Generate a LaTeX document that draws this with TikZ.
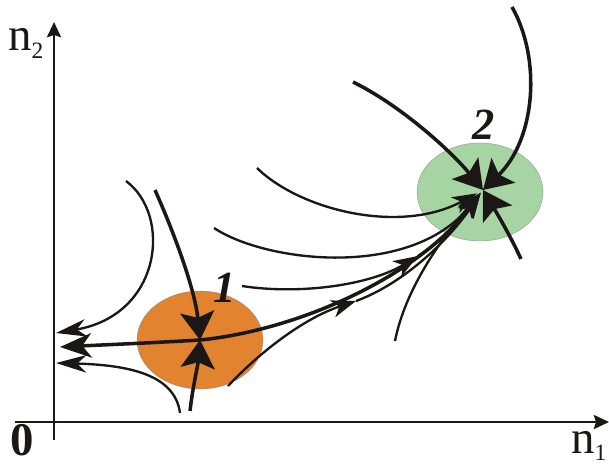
\documentclass[tikz,border=0pt]{standalone}
\usepackage{fontspec}
\setmainfont{Liberation Serif}
\usetikzlibrary{arrows.meta,shapes.geometric}
\definecolor{basinOne}{HTML}{E2832F}
\definecolor{basinTwo}{HTML}{A6D5A3}
\definecolor{ink}{HTML}{1A1716}

\begin{document}
\begin{tikzpicture}[
    x=0.03cm, y=-0.03cm,
    basin/.style={ellipse, draw=black!45, line width=0.3pt, minimum width=3.78cm, minimum height=2.94cm, inner sep=0pt},
    axis/.style={line width=2.2pt, draw=ink, -{Stealth[length=13pt,width=12pt,inset=2pt]}},
    flow/.style={line width=2pt, draw=ink},
    sep/.style={line width=3pt, draw=ink},
    tip/.style={-{Stealth[length=21pt,width=15pt,inset=6pt]}},
    midtip/.style={-{Stealth[length=21pt,width=15pt,inset=6pt]}},
    thinleft/.style={-{Stealth[length=26pt,width=15pt,inset=8pt]}},
    lefttip/.style={-{Stealth[length=27pt,width=21pt,inset=8pt]}},
    bigtip/.style={-{Stealth[length=24pt,width=29pt,inset=5pt]}},
    lab/.style={font=\fontsize{40}{40}\selectfont, text=ink, inner sep=0pt},
    num/.style={font=\fontsize{38}{38}\selectfont\bfseries\itshape, text=ink, inner sep=0pt}
  ]
  \useasboundingbox (0,0) rectangle (609,466);

  % basins of the two equilibria
  \node[basin, fill=basinOne] (basin1) at (200,340) {};
  \node[basin, fill=basinTwo] (basin2) at (480,192) {};

  % axes
  \coordinate (yfoot) at (54,440);
  \coordinate (ytop) at (54,22);
  \coordinate (xfoot) at (15,422);
  \coordinate (xend) at (609,422);
  \draw[axis] (yfoot) -- (ytop);
  \draw[axis] (xfoot) -- (xend);
  \node[lab, anchor=base west] (ntwo) at (8,50) {n\raisebox{-7pt}{\fontsize{20}{20}\selectfont 2}};
  \node[lab, anchor=base west] (none) at (571,453) {n\raisebox{-6pt}{\fontsize{20}{20}\selectfont 1}};
  \node[lab, font=\fontsize{40}{40}\selectfont\bfseries, anchor=base west] (origin) at (10,455) {0};

  % equilibria
  \coordinate (s1) at (200,340);
  \coordinate (s2) at (483,190);
  \node[num] (lab1) at (225,288) {1};
  \node[num] (lab2) at (484,125) {2};

  % trajectory end points
  \coordinate (topin) at (155,190);
  \coordinate (botin) at (190,411);
  \coordinate (leftout) at (60,347);
  \coordinate (upleft) at (126,181);
  \coordinate (upleftend) at (56,333);
  \coordinate (lowleft) at (180,413);
  \coordinate (lowleftend) at (56,363);
  \coordinate (lowright) at (228,386);
  \coordinate (m1) at (356,301);
  \coordinate (midright) at (242,286);
  \coordinate (m2) at (418,256);
  \coordinate (arcA) at (214,228);
  \coordinate (arcB) at (257,168);
  \coordinate (below2) at (395,341);
  \coordinate (above2) at (353,82);
  \coordinate (farup) at (512,7);
  \coordinate (right2) at (521,259);

  % separatrices of the saddle 1
  \draw[sep, bigtip] (topin) .. controls (175,235) and (195,290) .. (s1);
  \draw[sep, bigtip] (botin) .. controls (193,385) and (198,365) .. (s1);
  \draw[sep, lefttip] (s1) .. controls (150,343) and (100,345) .. (leftout);
  \draw[sep, tip, shorten >=3pt] (s1) .. controls (300,330) and (420,275) .. (s2);

  % trajectories near the saddle
  \draw[flow, thinleft] (upleft) .. controls (172,215) and (162,315) .. (upleftend);
  \draw[flow, thinleft] (lowleft) .. controls (175,375) and (130,365) .. (lowleftend);
  \draw[flow, midtip] (lowright) .. controls (262,350) and (305,318) .. (m1);
  \draw[flow, tip, shorten >=4pt] (m1) .. controls (400,285) and (445,245) .. (s2);
  \draw[flow, midtip] (midright) .. controls (300,295) and (370,285) .. (m2);
  \draw[flow, tip, shorten >=4pt] (m2) .. controls (440,242) and (462,218) .. (s2);

  % trajectories into the node 2
  \draw[flow, tip, shorten >=4pt] (arcA) .. controls (265,262) and (410,280) .. (s2);
  \draw[flow, tip, shorten >=6pt] (arcB) .. controls (300,210) and (400,235) .. (s2);
  \draw[flow, tip, shorten >=3pt] (below2) .. controls (405,290) and (440,240) .. (s2);
  \draw[sep, bigtip] (above2) .. controls (400,105) and (450,150) .. (s2);
  \draw[sep, bigtip] (farup) .. controls (542,60) and (535,140) .. (s2);
  \draw[sep, bigtip] (right2) .. controls (510,235) and (495,210) .. (s2);
\end{tikzpicture}
\end{document}
